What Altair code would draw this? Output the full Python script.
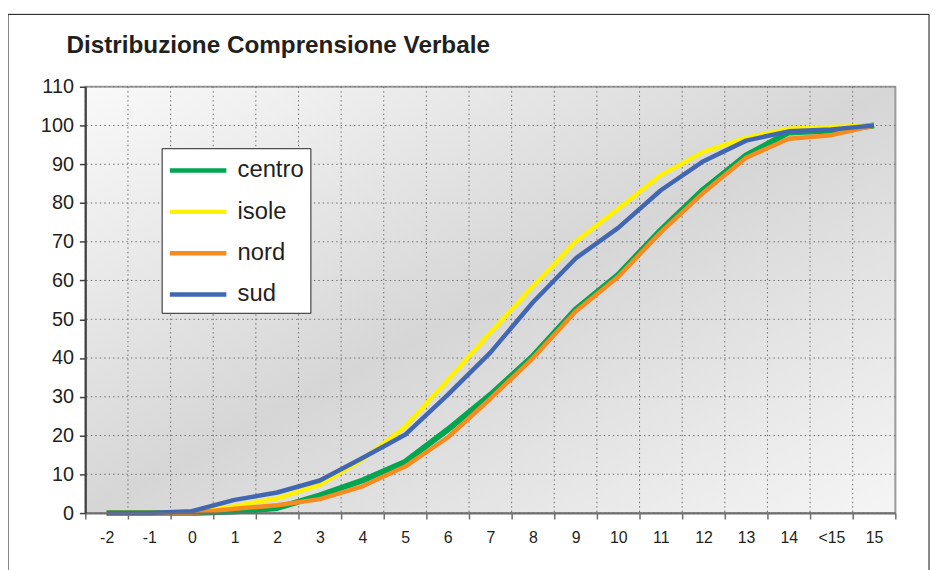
import altair as alt
import pandas as pd

categories = ["-2", "-1", "0", "1", "2", "3", "4", "5", "6", "7", "8", "9",
              "10", "11", "12", "13", "14", "<15", "15"]
series_names = ["centro", "isole", "nord", "sud"]
centro = [0, 0, 0, 0.4, 1.3, 4.6, 8.4, 13.2, 21.5, 30.5, 40.5, 52.5, 61.5, 73.0, 83.5, 92.3, 98.2, 98.7, 100]
isole = [0, 0, 0, 1.8, 3.8, 7.3, 13.8, 22.2, 34.3, 46.5, 58.5, 70.0, 78.5, 87.2, 93.2, 96.8, 99.2, 99.6, 100]
nord = [0, 0, 0, 1.1, 2.0, 3.6, 6.9, 12.0, 19.5, 29.5, 40.0, 52.0, 61.0, 72.5, 82.7, 91.7, 96.6, 97.5, 100]
sud = [0, 0, 0.5, 3.4, 5.3, 8.4, 14.2, 20.2, 30.5, 41.4, 54.4, 65.7, 73.6, 83.3, 90.8, 96.1, 98.5, 99.0, 100]
y_ticks = list(range(0, 111, 10))
title_text = "Distribuzione Comprensione Verbale"

colors = ["#00A650", "#FFF200", "#F68B1F", "#4267B2"]
widths = [6, 4.5, 4.5, 4.5]

values = {"centro": centro, "isole": isole, "nord": nord, "sud": sud}
rows = []
for s in series_names:
    for c, v in zip(categories, values[s]):
        rows.append({"cat": c, "series": s, "value": v})
df = pd.DataFrame(rows)

W, H = 817, 430
FONT = "Liberation Sans"

xscale = alt.Scale(type="band", domain=categories, paddingInner=0, paddingOuter=0)
yscale = alt.Scale(domain=[0, 110], nice=False, zero=True)

xaxis = alt.Axis(
    title=None, labelAngle=0, labelFontSize=16, labelFont=FONT, labelColor="#231f20",
    labelPadding=11, tickSize=6, tickBand="extent", tickColor="#6f6f6f", tickWidth=1.5,
    domainColor="#6f6f6f", domainWidth=2, grid=False, zindex=1,
)
yaxis = alt.Axis(
    title=None, values=y_ticks, labelFontSize=20, labelFont=FONT, labelColor="#231f20",
    labelPadding=6, tickSize=6, tickColor="#404040", tickWidth=1.5,
    domainColor="#404040", domainWidth=2, grid=False, zindex=1,
)

one = pd.DataFrame({"k": [0]})

background = alt.Chart(one).mark_rect(
    color=alt.LinearGradient(
        gradient="linear", x1=0, y1=0, x2=1, y2=1,
        stops=[alt.GradientStop(offset=0, color="#f9f9f9"),
               alt.GradientStop(offset=0.5, color="#d6d6d6"),
               alt.GradientStop(offset=1, color="#f5f5f5")]),
    stroke="#9d9d9d", strokeWidth=2
).encode(x=alt.value(0), x2=alt.value("width"), y=alt.value(0), y2=alt.value("height"))

frame = alt.Chart(one).mark_rect(filled=False, stroke="#111111", strokeWidth=1).encode(
    x=alt.value(-78), x2=alt.value(851), y=alt.value(-73), y2=alt.value(520))

title = alt.Chart(one).mark_text(
    text=title_text, align="left", baseline="alphabetic",
    font=FONT, fontSize=24.5, fontWeight="bold", color="#231f20"
).encode(x=alt.value(-19), y=alt.value(-34))

ygrid = alt.Chart(pd.DataFrame({"value": y_ticks})).mark_rule(
    color="#707070", strokeDash=[1.5, 3], strokeWidth=1
).encode(y=alt.Y("value:Q", scale=yscale, axis=yaxis))

xgrid = alt.Chart(pd.DataFrame({"cat": categories})).mark_rule(
    color="#707070", strokeDash=[1.5, 3], strokeWidth=1
).encode(x=alt.X("cat:N", scale=xscale, sort=categories, bandPosition=0, axis=xaxis))

legend = alt.Legend(
    orient="none", legendX=77, legendY=62, title=None,
    fillColor="white", strokeColor="#222222", padding=6,
    symbolType="M-1,0H3", symbolSize=812, symbolStrokeWidth=4.5,
    labelFontSize=24, labelFont=FONT, labelColor="#231f20",
    labelOffset=37.5, rowPadding=12.7,
)

lines = []
for i, s in enumerate(series_names):
    lines.append(
        alt.Chart(df).transform_filter(alt.datum.series == s)
        .mark_line(strokeWidth=widths[i], strokeJoin="round")
        .encode(
            x=alt.X("cat:N", scale=xscale, sort=categories, bandPosition=0.5, axis=xaxis),
            y=alt.Y("value:Q", scale=yscale, axis=yaxis),
            color=alt.Color("series:N", scale=alt.Scale(domain=series_names, range=colors),
                            legend=legend),
        )
    )

chart = alt.layer(background, frame, title, ygrid, xgrid, *lines).properties(
    width=W, height=H,
    autosize=alt.AutoSizeParams(type="none"),
    padding={"left": 78, "top": 77, "right": 37, "bottom": 55},
).configure_view(stroke=None).configure(background="white")

chart.save("out.html", embed_options={"renderer": "svg", "actions": False})
